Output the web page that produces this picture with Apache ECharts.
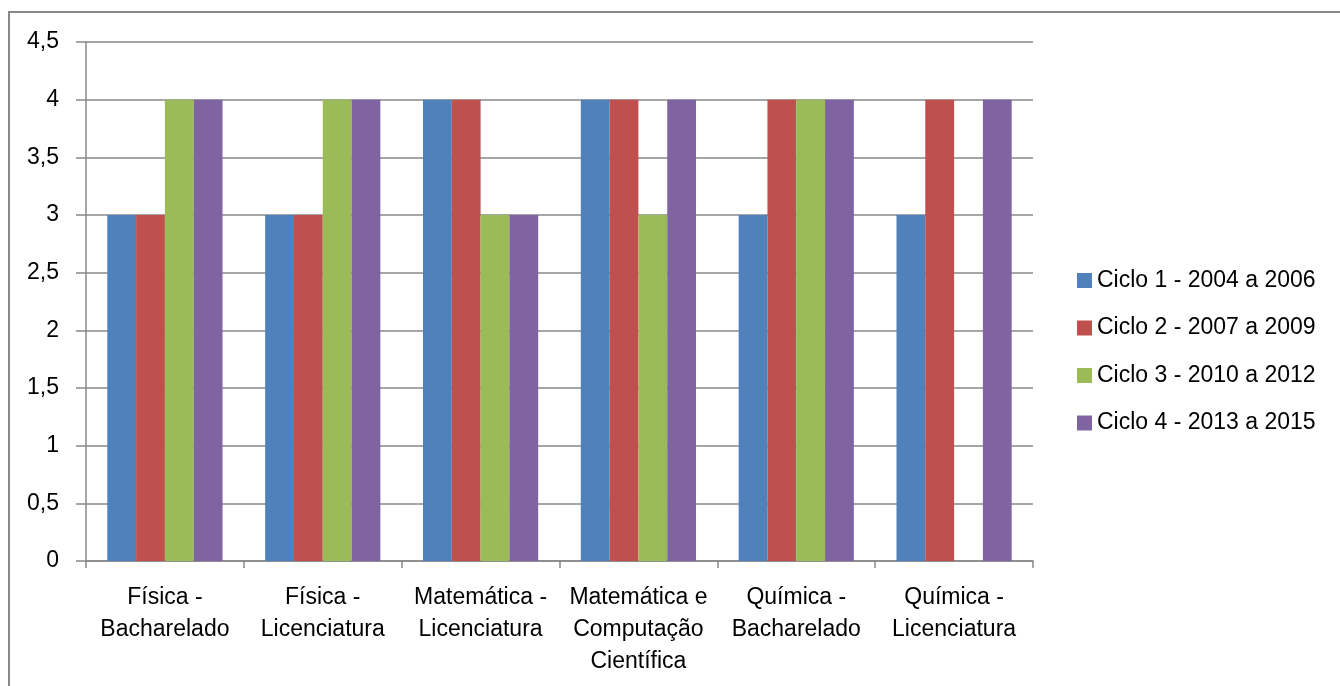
<!DOCTYPE html>
<html><head><meta charset="utf-8">
<script src="https://cdn.jsdelivr.net/npm/echarts@6/dist/echarts.min.js"></script>
<style>html,body{margin:0;padding:0;background:#fff}#c{width:1340px;height:686px}</style>
</head><body><div id="c"></div>
<script>
const categories = ['Física -\nBacharelado','Física -\nLicenciatura','Matemática -\nLicenciatura','Matemática e\nComputação\nCientífica','Química -\nBacharelado','Química -\nLicenciatura'];
const seriesNames = ['Ciclo 1 - 2004 a 2006','Ciclo 2 - 2007 a 2009','Ciclo 3 - 2010 a 2012','Ciclo 4 - 2013 a 2015'];
const ciclo1 = [3,3,4,4,3,3];
const ciclo2 = [3,3,4,4,4,4];
const ciclo3 = [4,4,3,3,4,null];
const ciclo4 = [4,4,3,4,4,4];
const colors = ['#4F81BD','#C0504D','#9BBB59','#8064A2'];
const FONT = 'Liberation Sans';
const chart = echarts.init(document.getElementById('c'));
const allData = [ciclo1,ciclo2,ciclo3,ciclo4];
chart.setOption({
  animation:false,
  color:colors,
  textStyle:{fontFamily:FONT,color:'#000'},
  graphic:[{type:'rect',shape:{x:9,y:12,width:1340,height:700},style:{fill:'none',stroke:'#888',lineWidth:2}}],
  grid:{left:86,right:307,top:42,bottom:125},
  legend:{orient:'vertical',left:1077,top:269,padding:0,itemWidth:15,itemHeight:15,itemGap:24.5,icon:'rect',
    textStyle:{fontFamily:FONT,fontSize:23,color:'#000'},data:seriesNames},
  xAxis:{type:'category',data:categories,boundaryGap:true,
    axisLine:{lineStyle:{color:'#888',width:1.5}},
    axisTick:{show:true,length:7,lineStyle:{color:'#888',width:1.5}},
    axisLabel:{interval:0,fontFamily:FONT,fontSize:23,color:'#000',lineHeight:32,margin:21}},
  yAxis:{type:'value',min:0,max:4.5,interval:0.5,
    axisLine:{show:true,lineStyle:{color:'#888',width:1.5}},
    axisTick:{show:true,length:10,lineStyle:{color:'#888',width:1.5}},
    splitLine:{lineStyle:{color:'#888',width:1.5}},
    axisLabel:{margin:27,fontFamily:FONT,fontSize:23,color:'#000',formatter:v=>String(v).replace('.',',')}},
  series:seriesNames.map((n,i)=>({name:n,type:'bar',data:allData[i],barGap:'0%',barCategoryGap:'27%'}))
});
</script></body></html>
